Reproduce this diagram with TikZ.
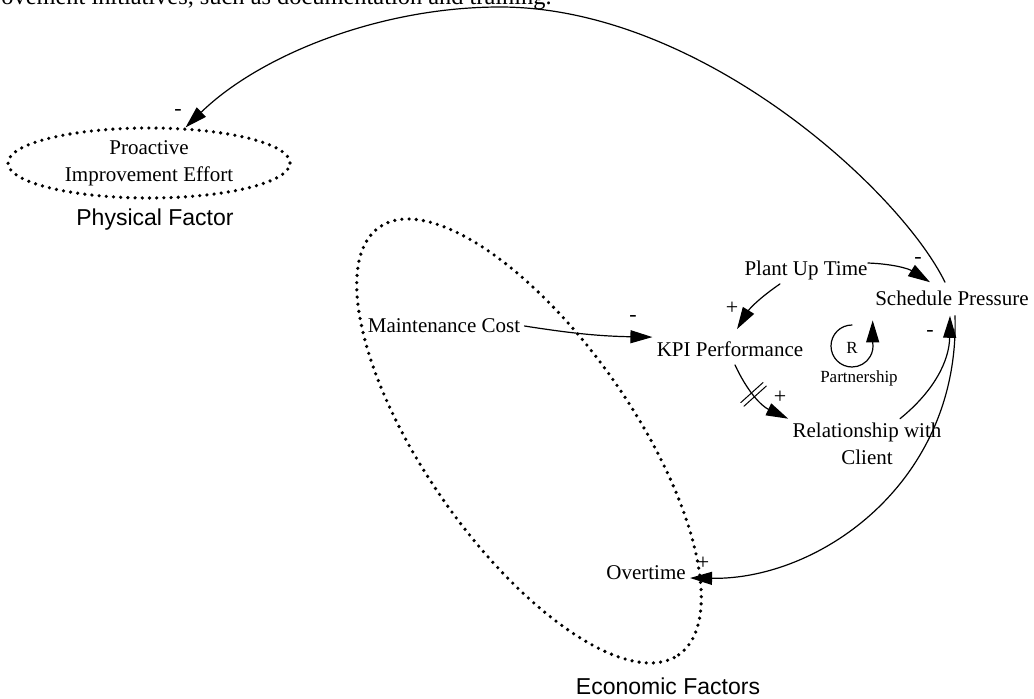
\documentclass[tikz,border=0pt]{standalone}
\usepackage{fontspec}
\setmainfont{Liberation Serif}
\setsansfont{Liberation Sans}
\usepackage{tikz}
\usetikzlibrary{arrows.meta}
\usetikzlibrary{shapes.geometric}
\usetikzlibrary{decorations.markings}

\tikzset{
  var/.style={inner sep=2pt, align=center, font=\fontsize{10.5}{13.5}\selectfont},
  factor/.style={inner sep=1pt, font=\sffamily\fontsize{11.5}{13}\selectfont},
  sign/.style={inner sep=0pt, font=\fontsize{11}{12}\selectfont},
  small/.style={inner sep=1pt, font=\fontsize{8.5}{10}\selectfont},
  link/.style={->, line width=0.6pt},
  dots/.style={line width=1.8pt, line cap=round, dash pattern=on 0pt off 3.6pt},
  delay/.style={postaction={decorate, decoration={markings, mark=at position #1 with {
      \draw[-, line width=0.5pt] (-1.2pt,-7.5pt) -- (-1.2pt,7.5pt);
      \draw[-, line width=0.5pt] (1.2pt,-7.5pt) -- (1.2pt,7.5pt);}}}}
}

\begin{document}
\begin{tikzpicture}[line cap=round,line join=round,>={Triangle[length=11pt,width=6.5pt]},x=0.5pt,y=0.5pt]
\useasboundingbox (0,0) rectangle (1034,698);
%\draw[help lines] (0,0) grid[step=50] (1034,698);
% sentence cut by the top edge
\node[anchor=base east, inner sep=0pt, font=\fontsize{12.2}{14}\selectfont] (note) at (552,693) {improvement initiatives, such as documentation and training.};
% groups
\node[var, ellipse, draw, dots, inner sep=0pt, minimum width=141pt, minimum height=35pt] (pie) at (149,535) {Proactive\\Improvement Effort};
\node[factor] (physlbl) at (155,478) {Physical Factor};
\draw[dots, rotate around={-55:(529,257)}] (529,257) ellipse (261 and 104);
\node[factor] (ecolbl) at (668,12) {Economic Factors};
% variables
\node[var] (mc) at (444,372) {Maintenance Cost};
\node[var] (kpi) at (730,349) {KPI Performance};
\node[var] (put) at (806,428) {Plant Up Time};
\node[var] (sp) at (952,400) {Schedule Pressure};
\node[var] (rel) at (867,254) {Relationship with\\Client};
\node[var] (ot) at (646,125) {Overtime};
\coordinate (arctop) at (500,691);
% links
\draw[link] (mc.east) to[bend right=4] (kpi.north west);
\draw[link] ([xshift=-13pt]put.south) to[bend right=12] ([xshift=3.5pt,yshift=4pt]kpi.north);
\draw[link] ([xshift=-2pt,yshift=3.5pt]put.east) to[bend left=15] ([xshift=-11pt,yshift=2pt]sp.north);
\draw[link, delay=0.45] ([xshift=2.5pt,yshift=-2pt]kpi.south) to[bend right=20] (rel.north west);
\draw[link] ([xshift=16.5pt]rel.north) to[bend right=25] ([xshift=-1pt,yshift=-3pt]sp.south);
\draw[link] ([xshift=1.5pt,yshift=-3pt]sp.south) .. controls +(5,-165) and +(131,-2) .. ([yshift=-2.5pt]ot.east);
\draw[link] ([xshift=-3.5pt,yshift=2pt]sp.north) .. controls +(-45,92) and +(200,0) .. (arctop) .. controls +(-120,0) and (260,643) .. (pie);
% polarities
\node[sign] (s1) at (633,380) {-};
\node[sign] (s2) at (732,390) {+};
\node[sign] (s3) at (918,438) {-};
\node[sign] (s4) at (780,301) {+};
\node[sign] (s5) at (930,365) {-};
\node[sign] (s6) at (703,135) {+};
\node[sign] (s7) at (178,586) {-};
% loop
\draw[link] (852,373) arc[start angle=90, end angle=370, radius=21] -- ++(0,22);
\node[small] (loopR) at (852,350) {R};
\node[small] (looplbl) at (859,320) {Partnership};
\end{tikzpicture}
\end{document}
